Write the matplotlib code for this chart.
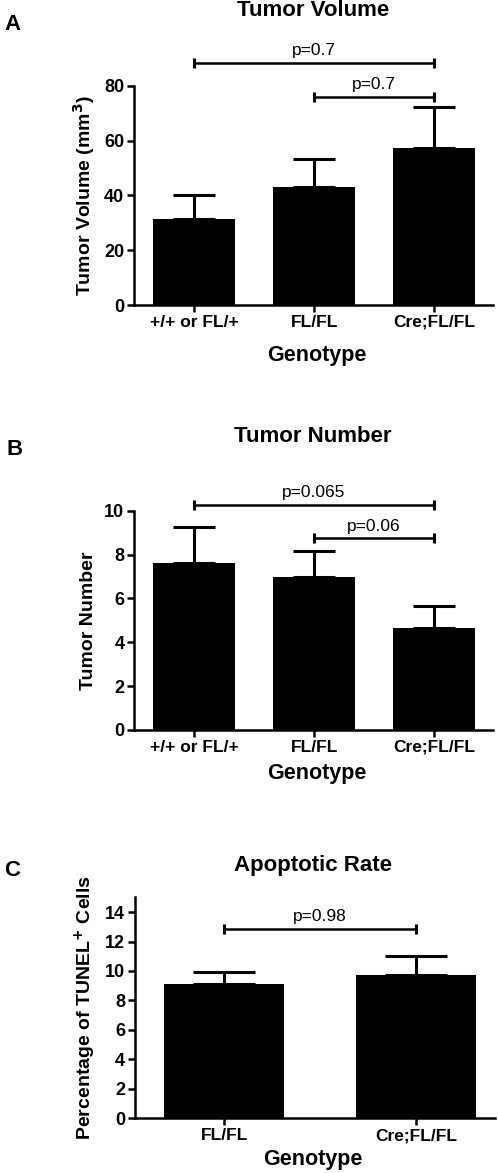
import matplotlib
matplotlib.use("Agg")
import matplotlib.pyplot as plt
import numpy as np

plt.rcParams["font.family"] = ["Liberation Sans", "DejaVu Sans"]

W, H = 498, 1173
DPI = 100

# panel A: tumor volume
vol_groups = ["+/+ or FL/+", "FL/FL", "Cre;FL/FL"]
vol_mean = [31.4, 43.2, 57.2]
vol_err = [8.7, 10.0, 15.1]
vol_pvals = [("p=0.7", 0, 2, 88.2), ("p=0.7", 1, 2, 76.0)]

# panel B: tumor number
num_groups = ["+/+ or FL/+", "FL/FL", "Cre;FL/FL"]
num_mean = [7.6, 6.98, 4.65]
num_err = [1.67, 1.2, 0.99]
num_pvals = [("p=0.065", 0, 2, 10.26), ("p=0.06", 1, 2, 8.74)]

# panel C: apoptotic rate
apo_groups = ["FL/FL", "Cre;FL/FL"]
apo_mean = [9.14, 9.73]
apo_err = [0.8, 1.27]
apo_pvals = [("p=0.98", 0, 1, 12.87)]


def px_axes(fig, left, top, right, bottom):
    return fig.add_axes([left / W, 1 - bottom / H, (right - left) / W, (bottom - top) / H])


def draw_panel(ax, groups, means, errs, pvals, ylim, yticks, xlim, width, capsize, ylabel):
    x = np.arange(len(groups))
    ax.bar(x, means, width=width, color="black", zorder=2)
    ax.errorbar(x, means, yerr=[np.zeros(len(errs)), errs], fmt="none",
                ecolor="black", elinewidth=2.2, capsize=capsize, capthick=2.2, zorder=1)
    for label, i, j, y in pvals:
        ax.plot([i, j], [y, y], color="black", lw=1.8, clip_on=False)
        ax.plot([i, j], [y, y], ls="none", marker="|", ms=7, mew=2.2, color="black", clip_on=False)
        ax.text((i + j) / 2, y + (ylim[1] - ylim[0]) * 0.022, label, ha="center", va="bottom",
                fontsize=12.5, clip_on=False)
    ax.set_xlim(*xlim)
    ax.set_ylim(*ylim)
    ax.set_yticks(yticks)
    ax.set_xticks(x)
    ax.set_xticklabels(groups, fontsize=12.5, fontweight="bold")
    for t in ax.get_yticklabels():
        t.set_fontsize(13)
        t.set_fontweight("bold")
    ax.spines["top"].set_visible(False)
    ax.spines["right"].set_visible(False)
    ax.spines["left"].set_linewidth(1.8)
    ax.spines["bottom"].set_linewidth(1.8)
    ax.tick_params(direction="out", length=5, width=1.8, pad=2)
    ax.set_ylabel(ylabel, fontsize=14, fontweight="bold", labelpad=5)


fig = plt.figure(figsize=(W / DPI, H / DPI), dpi=DPI)

axA = px_axes(fig, 134, 85.7, 493, 305)
draw_panel(axA, vol_groups, vol_mean, vol_err, vol_pvals, (0, 80), [0, 20, 40, 60, 80],
           (-0.5, 2.49), 0.685, 15, "Tumor Volume (mm$^{\\mathbf{3}}$)")
fig.text(313 / W, 1 - 11 / H, "Tumor Volume", ha="center", va="center", fontsize=16, fontweight="bold")
fig.text(4 / W, 1 - 24 / H, "A", ha="left", va="center", fontsize=16, fontweight="bold")
fig.text(317 / W, 1 - 355 / H, "Genotype", ha="center", va="center", fontsize=15.5, fontweight="bold")

axB = px_axes(fig, 134, 510.7, 493, 730)
draw_panel(axB, num_groups, num_mean, num_err, num_pvals, (0, 10), [0, 2, 4, 6, 8, 10],
           (-0.5, 2.49), 0.685, 15, "Tumor Number")
fig.text(313 / W, 1 - 437 / H, "Tumor Number", ha="center", va="center", fontsize=16, fontweight="bold")
fig.text(7 / W, 1 - 450 / H, "B", ha="left", va="center", fontsize=16, fontweight="bold")
fig.text(317 / W, 1 - 773 / H, "Genotype", ha="center", va="center", fontsize=15.5, fontweight="bold")

axC = px_axes(fig, 134.7, 897.3, 495, 1118.3)
draw_panel(axC, apo_groups, apo_mean, apo_err, apo_pvals, (0, 15), [0, 2, 4, 6, 8, 10, 12, 14],
           (-0.466, 1.41), 0.625, 22, "Percentage of TUNEL$^{\\mathbf{+}}$ Cells")
fig.text(313 / W, 1 - 865 / H, "Apoptotic Rate", ha="center", va="center", fontsize=16, fontweight="bold")
fig.text(4 / W, 1 - 870 / H, "C", ha="left", va="center", fontsize=16, fontweight="bold")
fig.text(313 / W, 1 - 1160 / H, "Genotype", ha="center", va="center", fontsize=15.5, fontweight="bold")

fig.savefig("out.png", dpi=DPI)
